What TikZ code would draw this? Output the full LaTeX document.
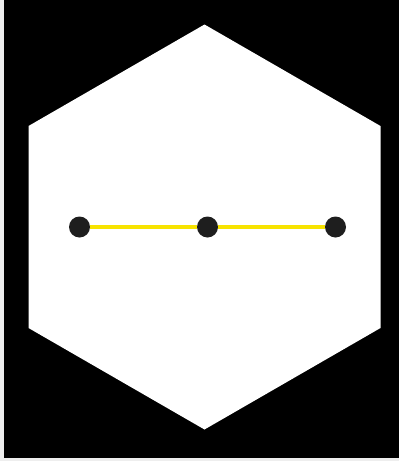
\documentclass[tikz,border=0pt]{standalone}
\usepackage{tikz}
\usepackage{xcolor}
\definecolor{amarillo}{HTML}{F7E300}
\definecolor{punto}{HTML}{1E1E1E}
\definecolor{marco}{HTML}{EEEEEE}

\begin{document}
\begin{tikzpicture}[x=1pt,y=-1pt,
    % Estilo de los puntos
    punto/.style={circle, fill=punto, minimum size=21pt, inner sep=0pt}
  ]
  \useasboundingbox (0,0) rectangle (399,461);
  \fill[marco] (0,0) rectangle (399,461);
  \fill[black] (4,0) rectangle (399,458);
  % Hexagono
  \fill[white] (204.5,24.5) -- (380.5,126) -- (380.5,328) -- (204.5,429.5)
    -- (28.5,328) -- (28.5,126) -- cycle;
  \node[punto] (v1) at (79.5,227) {};
  \node[punto] (v2) at (207.5,227) {};
  \node[punto] (v3) at (335.5,227) {};
  \draw[amarillo, line width=4pt] (v1) -- (v2);
  \draw[amarillo, line width=4pt] (v2) -- (v3);
\end{tikzpicture}
\end{document}
